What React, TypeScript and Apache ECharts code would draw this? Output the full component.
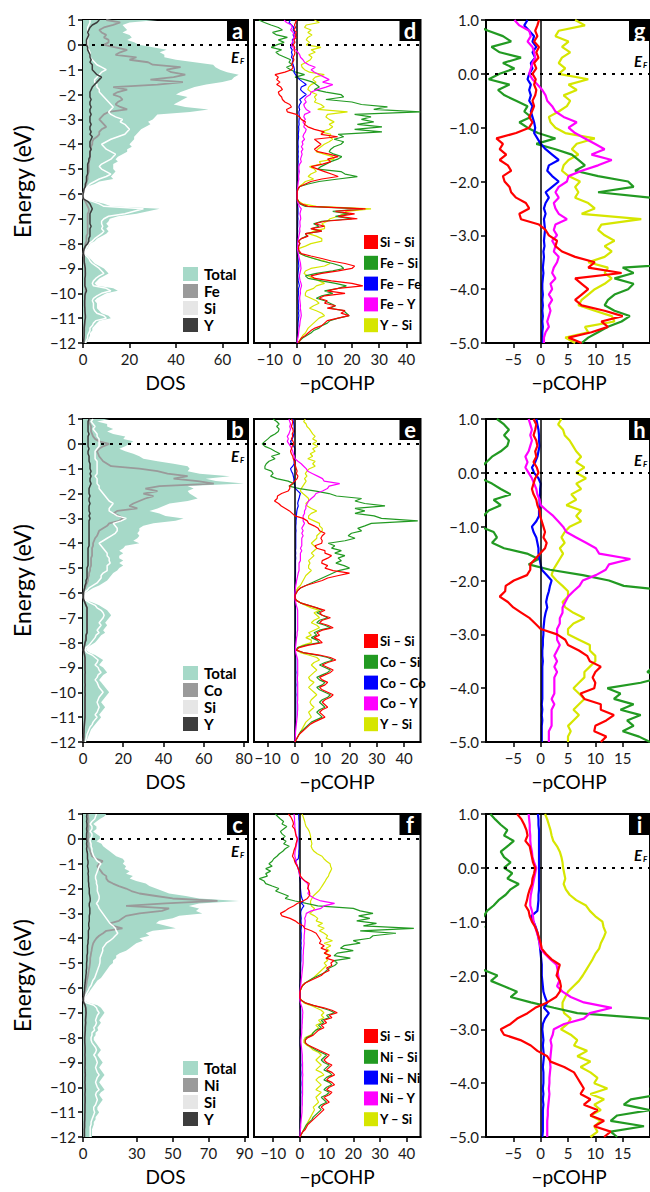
import React, { useEffect, useRef } from "react";
import * as echarts from "echarts";

// Energy grid (eV), top (1.0) to bottom (-12.0), 0.1 eV step
const ENERGY: string[] = Array.from({ length: 131 }, (_, i) => ((10 - i) / 10).toFixed(1));

// ---------------- Row 1 : Fe ----------------
const dosTotalFe = [
  32, 20, 17, 18, 19, 17, 20, 21, 19, 22,
  24, 30, 36, 33, 35, 35, 40, 48, 56, 57,
  59, 62, 67, 65, 64, 60, 53, 48, 45, 42,
  40, 45, 43, 41, 39, 44, 54, 46, 32, 31,
  30, 28, 29, 27, 25, 24, 23, 22, 22, 21,
  20, 21, 19, 19, 17, 15, 14, 15, 13, 13,
  13, 14, 13, 12, 13, 7, 5, 2, 1, 0.5,
  0, 0, 0.5, 5, 9, 12, 33, 28, 23, 15,
  11.5, 11, 10, 11, 10, 11, 10, 8, 6, 5,
  3, 2.5, 2, 1, 0.3, 2, 3, 4, 5, 7,
  9, 10, 11, 9, 7, 6, 5, 6, 13, 15,
  10, 8, 6, 5, 6, 6, 6, 7, 8, 11,
  12, 7, 6, 5, 4, 4, 3, 3, 2.5, 2,
  1.5,
];
const dosFe = [
  10, 16, 13, 9, 7, 8, 10, 9, 11, 11,
  9, 14, 19, 16, 14, 23, 20, 28, 30, 42,
  36, 38, 44, 39, 29, 43, 32, 13, 19, 15,
  13, 16, 17, 15, 14, 16, 19, 11, 9, 8,
  7, 8, 9, 10, 8, 7, 7, 6, 4.5, 4,
  4, 3.5, 3.5, 3, 3, 3, 3, 2.5, 2.5, 2.5,
  2.5, 2.5, 2, 2, 2, 1.5, 1.5, 1, 0.5, 0.3,
  0, 0, 0.2, 1, 1.5, 2, 2.5, 2.5, 2, 2,
  2, 2, 2, 2, 2, 2, 2, 1.5, 1.5, 1.5,
  1, 1, 0.5, 0.3, 0.2, 0.3, 0.5, 0.5, 0.7, 0.8,
  0.8, 0.9, 1, 0.9, 0.8, 0.8, 0.8, 0.8, 1, 1.1,
  1, 0.9, 0.8, 0.8, 0.8, 0.8, 0.8, 0.9, 0.9, 1,
  1, 0.8, 0.8, 0.7, 0.6, 0.6, 0.5, 0.5, 0.4, 0.4,
  0.3,
];
const dosSiFe = [
  3, 3, 2.5, 2, 2, 2, 2.5, 2, 2, 2,
  2, 2, 2.5, 3, 3, 3, 4, 5, 6, 8,
  10, 8, 7, 6, 5, 5, 6, 6, 7, 7,
  8, 9, 10, 11, 12, 13, 12, 11, 12, 14,
  17, 16, 18, 19, 20, 19, 18, 15, 12, 10,
  8, 9, 10, 12, 14, 13, 12, 10, 8, 7,
  8, 10, 12, 10, 7, 5, 3, 2, 1, 0.5,
  0, 0, 0.3, 4, 7, 9, 26, 22, 18, 11,
  9, 8, 8, 8.5, 8, 9, 8, 6.5, 5, 4,
  2.5, 2, 1.5, 0.8, 0.2, 1.5, 2.5, 3, 4, 5.5,
  7, 8, 9, 7, 5.5, 4.5, 4, 4.5, 10, 12,
  8, 6, 4.5, 4, 4.5, 4.5, 4.5, 5, 6, 9,
  10, 5.5, 4.5, 4, 3, 3, 2.5, 2, 2, 1.5,
  1,
];
const dosYFe = [
  7, 6, 4, 3, 2.5, 2, 2.5, 2, 1.5, 1.5,
  1.5, 2, 2, 2.5, 3, 3, 3.5, 3, 4, 4,
  4, 5, 6, 8, 7, 6, 5, 4, 3.5, 3,
  3, 3, 3.5, 3, 3, 3.5, 3, 3, 3.5, 3,
  3, 3, 3.5, 3, 3, 3.5, 3, 4, 3.5, 3,
  3, 3, 3.5, 3, 3, 3, 2.5, 2.5, 2, 2,
  2, 2, 2, 1.5, 1.5, 1.5, 1, 1, 0.5, 0.3,
  0, 0, 0.2, 2, 3, 3.5, 4, 3.5, 3, 3,
  3, 3, 3, 3.5, 3, 3, 3, 3, 2.5, 2.5,
  2, 1, 0.5, 0.3, 0.2, 0.5, 0.5, 0.5, 0.6, 0.8,
  1, 1, 1, 1, 0.8, 0.8, 0.8, 0.8, 1.2, 1.5,
  1, 0.8, 0.8, 0.7, 0.7, 0.7, 0.8, 0.8, 0.9, 1,
  1, 0.8, 0.7, 0.6, 0.5, 0.5, 0.5, 0.5, 0.4, 0.3,
  0.3,
];
const cohpSiSi1 = [
  -0.3, -0.6, -1, -0.6, -1.2, -0.3, -0.8, -0.4, -1.2, -0.8,
  -1.5, -0.9, -1.2, -0.8, -1, -1.5, -1.2, -1.6, -2.1, -1.5,
  -2.1, -4.5, -8.1, -6.9, -7.5, -6.3, -7.5, -6, -5.4, -6.9,
  -6.6, -5.7, -5.4, -4.5, -2.7, -2.1, -3.9, -3.6, -0.3, 0.9,
  1.5, 3, 2.7, 3.9, 6.3, 9.9, 8.7, 14.8, 6.3, 7.5,
  8.7, 7.5, 6.3, 7.5, 11.7, 15, 11.1, 12.3, 9.3, 5.1,
  7.5, 10, 12.5, 15, 9, 5, 3, 1, 0.3, 0,
  0, 0, 0, 0.3, 1.5, 4, 25, 14, 21, 15,
  22, 10, 6.5, 10, 5, 9, 3, 4, 1.5, 0.5,
  1, 0.6, 0.4, 0.8, 1.5, 5, 9, 12.5, 17.5, 21,
  20, 15, 9, 5, 6.5, 12.5, 20, 24, 15, 11,
  17.5, 10, 8, 11, 10, 14, 11, 17.5, 16, 19,
  15, 11, 10, 9, 6.5, 5, 4, 3, 1.5, 1,
  0.3,
];
const cohpFeSi1 = [
  -14, -12, -9.6, -6.9, -5.4, -9, -7.5, -3.6, -6.9, -4.8,
  -7.5, -9.5, -5.7, -7.8, -6.6, -4.5, -2.4, -3, -1.8, -3.9,
  -2.4, -0.5, 2.7, -0.8, 2.7, 5.7, 6.9, 8.1, 6.3, 10.5,
  16, 17, 10.5, 20, 23.5, 33, 28, 45, 21, 27,
  23.5, 28, 22, 31, 21, 31, 15, 17, 13.5, 17,
  16, 13.5, 12.3, 11.7, 13.5, 16.3, 14.8, 12.3, 10.5, 8.7,
  7.5, 16, 17.5, 22, 15, 8, 4, 1, 0.3, 0,
  0, 0, 0, 0.5, 1, 3, 24, 13, 19, 14,
  20, 9, 6, 8, 5, 9, 3, 3.5, 1.5, 0.5,
  1, 0.4, 0.4, 0.4, 1, 3, 6, 9, 13, 16,
  17, 13, 7, 3, 4, 9, 14, 18, 15, 10,
  13, 9, 7, 10, 12, 14, 12, 17, 18, 19,
  15, 12, 11, 9, 8, 6, 5, 3.5, 2, 1,
  0.3,
];
const cohpFeFe1 = [
  -2.4, -3, -2.1, -1.2, -1.5, -0.8, -1.5, -1, -1.8, -1.5,
  -2.1, -2.4, -1.8, -2.1, -1.8, -2.1, -1.5, -1.8, -1.5, -1.2,
  -1, -1.2, -0.6, 0, 0.9, 2.1, 3.3, 1.5, 1.2, 2.1,
  3.3, 2.1, 0.9, 1.5, 0.9, 0.6, 0.9, 0.6, 0.7, 0.8,
  0.7, 0.6, 0.7, 0.5, 0.6, 0.5, 0.4, 0.5, 0.4, 0.3,
  0.3, 0.4, 0.3, 0.4, 0.3, 0.4, 0.3, 0.4, 0.3, 0.3,
  0.3, 0.3, 0.2, 0.2, 0.2, 0.1, 0.1, 0, 0, 0,
  0, 0, 0, 0, 0.1, 0.2, 0.3, 0.3, 0.3, 0.2,
  0.3, 0.2, 0.2, 0.2, 0.1, 0.2, 0.1, 0.1, 0, 0,
  0, 0, 0, 0, 0.1, 0.2, 0.3, 0.4, 0.5, 0.6,
  0.5, 0.4, 0.3, 0.2, 0.3, 0.4, 0.6, 0.8, 0.5, 0.4,
  0.5, 0.4, 0.3, 0.4, 0.4, 0.5, 0.4, 0.6, 0.5, 0.6,
  0.5, 0.4, 0.3, 0.3, 0.2, 0.2, 0.1, 0.1, 0.1, 0,
  0,
];
const cohpFeY1 = [
  -4.8, -3.9, -2.1, -1.8, -2.4, -1.5, -1.2, -1, -1.5, -1.8,
  -2.1, -1.5, -0.6, 0.3, 0.9, 1.2, 2.1, 2.7, 4.2, 6.6,
  5.1, 6.3, 8.1, 9.9, 11.7, 9.3, 13, 10.5, 7.5, 5.1,
  4.8, 3.3, 2.7, 3.3, 2.4, 2.7, 3.3, 4.8, 2.7, 2.4,
  3, 2.1, 2.7, 2.4, 3.3, 3, 2.4, 2.1, 2.7, 1.8,
  2.1, 1.5, 2.1, 1.5, 1.8, 1.5, 1.2, 1.5, 0.9, 0.6,
  0.6, 0.8, 0.6, 0.5, 0.6, 0.4, 0.3, 0.2, 0.1, 0,
  0, 0, 0, 0.1, 0.4, 0.8, 1.5, 1.2, 1, 1.2,
  1.3, 1, 1, 1.1, 0.9, 1, 0.8, 0.6, 0.4, 0.3,
  0.2, 0.2, 0.1, 0.2, 0.4, 0.6, 0.8, 1, 1.2, 1.3,
  1.4, 1.2, 1, 0.8, 0.9, 1.1, 1.4, 1.6, 1.3, 1.1,
  1.2, 1, 0.9, 1, 1.1, 1.2, 1.1, 1.3, 1.4, 1.5,
  1.3, 1.1, 1, 0.9, 0.7, 0.6, 0.5, 0.4, 0.2, 0.1,
  0,
];
const cohpYSi1 = [
  6.3, 8.1, 3.3, 2.7, 5.1, 3.9, 5.4, 3.9, 3.3, 4.5,
  3.3, 8.7, 5.1, 6.6, 4.2, 5.4, 4.8, 3.3, 1.5, 1.8,
  2.7, 4.5, 9.9, 6.6, 5.7, 6.9, 5.1, 4.2, 3.9, 5.1,
  7.2, 6.3, 6.9, 6.3, 8.7, 9.9, 7.5, 18.4, 11.1, 10.5,
  11.7, 13.5, 11.7, 13, 11.7, 8.7, 12.3, 11.7, 13, 11.7,
  9.9, 8.7, 7.5, 6.9, 9.9, 13, 13.5, 8.1, 8.7, 4.5,
  6.3, 7, 5, 4, 6, 3, 2, 0.8, 0.2, 0,
  0, 0, 0, 0.5, 2, 7, 27, 18, 17, 15,
  12, 11, 9, 10, 10, 6, 4, 7, 9, 9,
  5, 3, 0.5, 0.5, 1, 3, 6, 10, 12, 10,
  5, 3, 2.5, 4, 6, 8, 10, 7, 6, 3.5,
  3, 3, 5, 7, 8, 6, 4.5, 7, 9, 10,
  8, 7, 6, 5, 4, 3.5, 3, 2, 1.5, 0.8,
  0.3,
];

// ---------------- Row 2 : Co ----------------
const dosTotalCo = [
  13, 7, 12, 12, 15, 12, 15, 21, 20, 25,
  23, 21, 18, 21, 25, 28, 30, 37, 45, 52,
  53, 52, 58, 73, 61, 66, 80, 52, 55, 52,
  53, 55, 57, 52, 43, 40, 37, 33, 38, 41,
  50, 46, 35, 30, 28, 28, 27, 28, 27, 25,
  28, 21, 20, 18, 20, 18, 18, 20, 18, 20,
  18, 17, 15, 14, 13, 12, 10, 8, 5, 3,
  1, 0.5, 0.5, 2, 5, 8, 10, 12, 13, 14,
  13, 12, 11, 12, 11, 10, 11, 9, 8, 7,
  6, 4, 2, 1.5, 3, 6, 8, 10, 9, 8,
  10, 11, 12, 10, 9, 8, 9, 10, 11, 12,
  13, 12, 11, 10, 9, 10, 11, 10, 9, 8,
  9, 8, 7, 6, 5, 4, 3.5, 3, 2.5, 2,
  1.5,
];
const dosCo = [
  3.5, 3, 3.5, 4, 4, 4, 4.5, 5, 6, 8,
  13, 10, 8, 7, 7.5, 8, 9, 10, 12, 14,
  28, 37, 42, 52, 45, 57, 65, 38, 31, 37,
  30, 35, 31, 28, 25, 23, 27, 17, 15, 18,
  20, 18, 13, 12, 10, 8, 7.5, 7, 6, 5.5,
  5, 5, 4.5, 4.5, 4.5, 4.5, 4, 4, 4, 4,
  3.5, 3.5, 3, 3, 2.5, 2.5, 2, 1.5, 1, 0.5,
  0.3, 0.2, 0.2, 0.5, 1, 1.5, 2, 2, 2, 2,
  2, 2, 2, 2, 2, 2, 2, 1.5, 1.5, 1.2,
  1, 0.8, 0.4, 0.3, 0.5, 0.8, 1, 1, 1, 1,
  1, 1, 1, 1, 1, 1, 1, 1, 1, 1,
  1, 1, 1, 1, 1, 1, 1, 1, 1, 1,
  1, 0.9, 0.8, 0.7, 0.6, 0.5, 0.5, 0.4, 0.4, 0.3,
  0.3,
];
const dosSiCo = [
  5, 4, 5, 6, 5, 6, 7, 7, 8, 8,
  8, 8, 7, 6, 6, 6, 6, 7, 7, 7,
  7, 7, 7, 6, 7, 7, 7, 8, 8, 9,
  10, 11, 12, 13, 15, 14, 13, 13, 15, 17,
  21.5, 19, 15, 16, 17, 17, 16, 14, 12, 10,
  8, 9, 10, 11, 12, 12, 13, 13, 13.5, 12,
  12, 12, 10, 9, 9, 8, 7, 5, 3, 2,
  0.5, 0.3, 0.3, 1.5, 3.5, 6, 7, 9, 10, 10.5,
  10, 9, 8, 9, 8, 7, 8, 6.5, 6, 5,
  4, 3, 1.5, 1, 2, 4.5, 6, 7.5, 7, 6,
  7.5, 8, 9, 7.5, 7, 6, 7, 7.5, 8, 9,
  10, 9, 8, 7.5, 7, 7.5, 8, 7.5, 7, 6,
  7, 6, 5, 4.5, 3.5, 3, 2.5, 2, 1.8, 1.5,
  1,
];
const dosYCo = [
  3, 2.5, 2.5, 2.5, 2.5, 2.5, 3, 2.5, 2.5, 2.5,
  2.5, 2.5, 3, 2.5, 2.5, 3, 3, 3, 3.5, 3.5,
  3.5, 4, 3.5, 4, 3.5, 3.5, 4, 3.5, 3, 3,
  3, 3.5, 3, 3, 3.5, 3, 3, 3, 3.5, 3,
  3.5, 3, 3, 3, 3, 3, 3, 3, 3, 3,
  3, 3, 2.5, 2.5, 2.5, 2.5, 2.5, 2.5, 2.5, 2.5,
  2, 2, 2, 2, 2, 1.5, 1.5, 1, 0.8, 0.5,
  0.3, 0.2, 0.2, 0.5, 1, 1.5, 2, 2, 2, 2,
  2, 2, 2, 2, 2, 2, 2, 1.5, 1.5, 1.5,
  1, 0.8, 0.5, 0.3, 0.5, 0.8, 1, 1, 1, 1,
  1, 1, 1.1, 1, 1, 1, 1, 1.1, 1, 1,
  1, 1.1, 1, 1, 1, 1, 1, 1, 1, 1,
  1, 0.9, 0.8, 0.7, 0.6, 0.5, 0.5, 0.4, 0.4, 0.3,
  0.3,
];
const cohpSiSi2 = [
  -1.3, -0.8, -1, -1.3, -0.8, -0.6, -1, -0.8, -1.3, -0.7,
  -0.4, -1, -1.3, -1.6, -1.3, -0.8, -0.6, -0.2, -0.1, 0.2,
  0.5, 0.8, 0.5, 1.1, 0.8, -0.1, -1, -1.9, -1.9, -2.5,
  -4.9, -6.4, -6.5, -7.5, -6, -5, -3.5, -2, -1, 0,
  3, 4.5, 5, 7, 8.5, 9, 11, 10, 9.5, 10,
  9.8, 7.3, 8, 11, 11, 13.4, 12, 10, 9.8, 12,
  11, 14, 20, 16, 12, 10, 7, 4, 2, 1,
  0.5, 0, 0, 0.5, 2, 5, 8, 11, 9, 10,
  13, 10, 9, 12, 14, 10, 8, 9, 7, 9,
  10, 5, 1.5, 0.5, 3, 9, 13, 15, 12, 10,
  12, 14, 13, 11, 9, 10, 12, 11, 9, 10,
  12, 14, 13, 11, 10, 11, 12, 10, 9, 10,
  11, 9, 7, 5.5, 4.5, 3.5, 2.5, 1.5, 1, 0.5,
  0,
];
const cohpCoSi2 = [
  -8, -6.7, -5.8, -6.7, -5.8, -6.1, -7.3, -8.9, -9.9, -11,
  -12, -11, -8.9, -7.3, -5.5, -8.6, -7.3, -9.5, -10.5, -11,
  -11, -8.6, -8, -8.9, -6.7, -2.5, -0.4, -2.2, 1.7, 7.7,
  12.5, 15.2, 24.4, 22, 25.6, 33, 22, 25.6, 22, 29,
  31.7, 45, 28, 25.6, 23, 24.4, 20.7, 19.5, 22, 18.3,
  12.2, 14.6, 13.4, 17, 14.6, 18.3, 15.8, 17, 15, 18,
  20, 16, 14, 12, 10, 8, 6, 4, 2, 1,
  0.5, 0, 0, 0.5, 2, 5, 8, 10, 8, 10,
  12, 9, 8, 11, 13, 9, 7, 8, 6, 8,
  9, 4, 1, 0.5, 3, 8, 12, 14, 11, 9,
  11, 13, 12, 10, 8, 9, 11, 10, 8, 9,
  11, 13, 12, 10, 9, 10, 11, 9, 8, 9,
  10, 8, 6, 5, 4, 3, 2, 1.5, 1, 0.5,
  0,
];
const cohpCoCo2 = [
  -0.8, -0.6, -0.4, -0.3, -0.3, -0.2, -0.4, -0.6, -1, -1.6,
  -1.2, -0.4, 0, -0.1, -0.1, -0.2, -0.2, -0.3, -0.3, -0.8,
  -1.6, -1.3, -0.8, -0.6, -0.4, -0.4, -0.2, 0, 0.2, 1.1,
  2, 1.7, 1.5, 1.2, 1, 1.2, 0.9, 0.7, 0.6, 0.5,
  0.5, 0.4, 0.4, 0.3, 0.3, 0.4, 0.3, 0.3, 0.3, 0.3,
  0.3, 0.3, 0.3, 0.2, 0.3, 0.2, 0.3, 0.2, 0.2, 0.2,
  0.2, 0.2, 0.2, 0.2, 0.1, 0.1, 0.1, 0.1, 0, 0,
  0, 0, 0, 0, 0.1, 0.1, 0.2, 0.2, 0.2, 0.2,
  0.2, 0.2, 0.2, 0.2, 0.2, 0.2, 0.2, 0.1, 0.1, 0.1,
  0.1, 0, 0, 0, 0.1, 0.2, 0.3, 0.3, 0.3, 0.3,
  0.3, 0.3, 0.4, 0.3, 0.3, 0.3, 0.3, 0.4, 0.3, 0.3,
  0.3, 0.4, 0.3, 0.3, 0.3, 0.3, 0.3, 0.3, 0.3, 0.3,
  0.3, 0.2, 0.2, 0.2, 0.1, 0.1, 0.1, 0.1, 0, 0,
  0,
];
const cohpCoY2 = [
  -2.2, -1.9, -1.6, -1.9, -1.6, -1.9, -2.2, -2.8, -2.4, -2.8,
  -2.2, -1.6, -1.2, -0.8, -0.6, -0.2, 0, 1.1, 2.3, 3.2,
  4.1, 4.7, 6.5, 8.3, 10.1, 10.7, 16.4, 12.5, 11.9, 10.1,
  7.7, 7.1, 6, 5, 4.5, 4, 4, 3.5, 3.5, 3,
  3, 3, 3.5, 3, 2.5, 3, 2.5, 3, 2.5, 2.5,
  2.5, 2.5, 2, 2.5, 2, 2, 2, 2, 1.5, 1.5,
  1.5, 1.5, 1.2, 1, 0.8, 0.6, 0.5, 0.3, 0.2, 0.1,
  0, 0, 0, 0.1, 0.3, 0.5, 0.8, 1, 1, 1,
  1, 1, 1, 1, 1, 1, 0.8, 0.8, 0.6, 0.5,
  0.4, 0.3, 0.2, 0.2, 0.3, 0.5, 0.8, 1, 1, 1,
  1, 1, 1, 1, 0.9, 0.9, 1, 1, 1, 1,
  1, 1, 1, 1, 0.9, 1, 1, 1, 0.9, 0.9,
  0.8, 0.7, 0.6, 0.5, 0.4, 0.3, 0.2, 0.2, 0.1, 0.1,
  0,
];
const cohpYSi2 = [
  3.8, 3.2, 4.1, 4.4, 5.3, 5.9, 6.5, 7.4, 6.5, 8,
  6.5, 8.3, 6.5, 7.4, 5.6, 6.5, 4.7, 7.4, 6.5, 7.4,
  5.3, 4.4, 3.8, 4.4, 3.5, 4.1, 3.5, 2.9, 2.3, 2,
  2.9, 4, 5, 5, 4, 4.5, 6, 8, 6, 5,
  5, 7, 9, 9, 10, 10, 9, 8, 8, 7,
  6, 7, 8, 7, 6, 7, 6, 5, 5.5, 5,
  5, 6, 5, 4, 3.5, 3, 2.5, 2, 1, 0.5,
  0, 0, 0, 0.5, 2, 4, 6, 9, 7, 8,
  9, 7, 6, 8, 9, 7, 5, 6, 4, 6,
  6, 3, 1, 0.5, 2, 5, 8, 9, 7, 6,
  7, 8, 7, 6, 5, 5.5, 7, 6, 5, 6,
  7, 8, 7, 6, 5.5, 6, 7, 6, 5, 5.5,
  6, 5, 4, 3.5, 3, 2.5, 2, 1.5, 1, 0.5,
  0,
];

// ---------------- Row 3 : Ni ----------------
const dosTotalNi = [
  13, 11.8, 9.4, 7.5, 5.7, 7.5, 7.5, 5.7, 7.5, 9.4,
  9.4, 7.5, 10.3, 11.2, 13, 14.9, 16.7, 18.5, 22.2, 23.2,
  22.2, 24, 23.2, 26, 24, 27.8, 26, 29.7, 35, 37,
  40.7, 44.4, 48, 57.3, 64.7, 87, 64.7, 59, 64.7, 63,
  66.5, 53.6, 50, 42.5, 40.7, 46.2, 51.8, 38.9, 35, 37,
  31.5, 33.4, 29.7, 27.8, 26, 24, 20.4, 18.5, 18.5, 16.7,
  16.7, 15, 14, 13, 12, 11, 10, 8, 7, 6,
  5, 4, 3, 2, 1, 0.5, 3, 8, 10, 11,
  12, 11, 10, 9, 10, 9, 8, 8.5, 7, 7,
  6, 6, 7, 8, 9, 10, 9, 8, 9, 10,
  11, 10, 9, 10, 11, 12, 11, 10, 9, 10,
  11, 12, 10, 9, 10, 11, 10, 9, 8, 8,
  9, 8, 7, 7, 6, 6, 5.5, 5, 5, 5,
  5,
];
const dosNi = [
  2.8, 2.8, 3, 3, 3, 3, 2.8, 2.8, 3, 3,
  3, 3, 3, 3, 3.5, 4, 4.5, 5, 7.5, 11,
  9, 8, 9, 10, 11, 13, 13, 14, 16.7, 20,
  24, 27, 31.5, 40.7, 50, 75, 46, 24, 48, 44,
  31.5, 24, 22, 20, 15, 16.7, 22, 13, 11.2, 9,
  7.5, 6.5, 5.7, 5.3, 5, 4.8, 4.5, 4.3, 4, 4,
  3.9, 3.7, 3.5, 3.2, 3, 2.8, 2.5, 2.2, 2, 1.8,
  1.5, 1.2, 1, 0.7, 0.4, 0.3, 0.6, 1.2, 1.5, 1.5,
  1.5, 1.5, 1.4, 1.3, 1.3, 1.2, 1.1, 1.1, 1, 1,
  0.9, 0.9, 1, 1, 1, 1, 1, 1, 1, 1,
  1, 1, 1, 1, 1, 1, 1, 1, 1, 1,
  1, 1, 1, 1, 1, 1, 1, 1, 1, 1,
  1, 1, 1, 0.9, 0.9, 0.8, 0.8, 0.7, 0.7, 0.7,
  0.7,
];
const dosSiNi = [
  7.5, 7, 6.5, 5, 4, 5, 5, 4, 5, 5,
  4, 4, 4.5, 4.5, 5, 5, 5.5, 6, 7, 8,
  10, 9, 8.5, 8, 7.5, 7, 7, 7.5, 7.5, 8,
  8, 8, 8.5, 9, 9, 8.5, 7.5, 8.5, 9, 10,
  11, 12, 13, 14, 15, 16.7, 18, 18.5, 19.4, 18,
  16.7, 15, 13, 12, 11, 11, 10.5, 10, 9.5, 9.5,
  9.4, 9, 8.5, 8, 7.5, 7, 6.5, 5.5, 5, 4.5,
  3.5, 3, 2.2, 1.5, 0.7, 0.3, 2, 6, 7.5, 8,
  9, 8, 7.5, 7, 7.5, 7, 6, 6.5, 5, 5,
  4.5, 4.5, 5, 6, 7, 7.5, 7, 6, 7, 7.5,
  8, 7.5, 7, 7.5, 8, 9, 8, 7.5, 7, 7.5,
  8, 9, 7.5, 7, 7.5, 8, 7.5, 7, 6, 6,
  6.5, 6, 5.5, 5, 4.5, 4.5, 4, 4, 4, 4,
  4,
];
const dosYNi = [
  2.2, 2, 2.2, 2, 2.2, 2.2, 2, 2.2, 2, 2,
  2, 2.2, 2, 2.2, 2, 2.2, 2.5, 2.5, 2.5, 2.8,
  2.8, 2.5, 2.8, 3, 2.8, 3, 3, 3, 3.2, 3.2,
  3.5, 3.5, 3.5, 3.8, 4, 4, 3.5, 3.5, 3.8, 3.8,
  3.8, 3.5, 3.5, 3.5, 3.2, 3.2, 3.5, 3, 3, 3,
  3, 2.8, 2.8, 2.5, 2.5, 2.5, 2.5, 2.2, 2.2, 2.2,
  2, 2, 2, 1.8, 1.8, 1.6, 1.5, 1.3, 1.2, 1,
  0.9, 0.8, 0.6, 0.5, 0.3, 0.2, 0.5, 1.2, 1.5, 1.6,
  1.7, 1.6, 1.5, 1.4, 1.5, 1.4, 1.3, 1.3, 1.2, 1.1,
  1, 1, 1, 1.1, 1.2, 1.2, 1.2, 1.1, 1.2, 1.2,
  1.2, 1.2, 1.1, 1.2, 1.2, 1.3, 1.2, 1.2, 1.1, 1.2,
  1.2, 1.3, 1.2, 1.1, 1.2, 1.2, 1.2, 1.1, 1.1, 1.1,
  1.1, 1, 1, 1, 0.9, 0.9, 0.9, 0.8, 0.8, 0.8,
  0.8,
];
const cohpSiSi3 = [
  -4.3, -3.5, -3, -2.6, -2.4, -2.8, -2, -1.8, -1.6, -1.4,
  -1, -1.2, -1.5, -1.6, -2, -2.3, -2.5, -2.8, -2.2, -2,
  -1.6, -1, -0.6, -0.3, 0, 0.2, 1, 2, 3.5, 3.2,
  2.9, 3.5, 3.7, 3.5, 2.8, 1.2, -1, -2.4, -4.3, -5.5,
  -7.3, -6.7, -3.7, -1.8, -0.6, 1.2, 1.8, 4.3, 6.1, 6.7,
  7.3, 7.9, 7.3, 9.1, 7.9, 10.4, 9.1, 11.6, 9.8, 12.8,
  11.6, 12, 10, 11, 9, 8, 6, 4, 2, 1,
  0.5, 0.2, 0, 0, 0, 0.5, 2, 5, 9, 12,
  14, 11, 12, 9, 10, 8, 9, 7, 6, 5,
  3, 2, 2, 3, 5, 7, 9, 11, 10, 9,
  10, 12, 11, 10, 12, 13, 11, 10, 12, 13,
  11, 10, 12, 11, 9, 10, 11, 9, 8, 9,
  8, 7, 6, 5, 4, 3, 2.5, 2, 1, 0.5,
  0,
];
const cohpNiSi3 = [
  -9.2, -8.3, -7.3, -6.1, -6.7, -4.9, -6.1, -7.3, -6.7, -5.5,
  -6.7, -5.2, -6.1, -4, -5.5, -6.4, -7.7, -8.6, -9.8, -10.4,
  -11.6, -10.4, -12.8, -11, -12.8, -12.2, -15.2, -13.4, -12.8, -10.4,
  -7.9, -9.1, -6.7, -4.3, -5.5, -1.8, 2.4, 6.7, 20, 22.6,
  27.4, 22, 26.2, 21.3, 28.7, 23.8, 42.7, 22.6, 36, 27.4,
  26.2, 20, 22.6, 16.5, 15.2, 20, 14, 12.8, 18.9, 12.8,
  14, 13, 11, 10, 9, 7, 5, 3.5, 2, 1,
  0.5, 0.2, 0, 0, 0, 0.5, 2, 5, 8, 11,
  13, 10, 11, 8, 9, 7, 8, 6, 5, 4.5,
  2.5, 2, 2, 3, 4.5, 6, 8, 10, 9, 8,
  9, 11, 10, 9, 11, 12, 10, 9, 11, 12,
  10, 9, 11, 10, 8, 9, 10, 8, 7, 8,
  7, 6, 5, 4.5, 3.5, 2.5, 2, 1.5, 1, 0.5,
  0,
];
const cohpNiNi3 = [
  -0.5, -0.4, -0.4, -0.3, -0.3, -0.3, -0.3, -0.3, -0.3, -0.3,
  -0.3, -0.3, -0.3, -0.3, -0.3, -0.4, -0.4, -0.5, -0.6, -1.8,
  -1.3, -0.9, -0.6, -0.4, -0.2, -0.1, 0, 0.1, 0.2, 0.2,
  0.2, 0.3, 0.4, 0.5, 0.8, 1.2, 0.6, 1.5, 0.8, 0.4,
  0.3, 0.4, 0.5, 0.4, 0.5, 0.6, 0.5, 0.4, 0.5, 0.5,
  0.5, 0.4, 0.5, 0.4, 0.5, 0.4, 0.4, 0.4, 0.4, 0.4,
  0.3, 0.3, 0.3, 0.3, 0.2, 0.2, 0.2, 0.1, 0.1, 0,
  0, 0, 0, 0, 0, 0, 0.1, 0.2, 0.2, 0.3,
  0.3, 0.3, 0.3, 0.3, 0.3, 0.3, 0.3, 0.2, 0.2, 0.2,
  0.1, 0.1, 0.1, 0.1, 0.2, 0.3, 0.3, 0.3, 0.3, 0.3,
  0.3, 0.4, 0.3, 0.3, 0.4, 0.4, 0.3, 0.3, 0.4, 0.4,
  0.3, 0.3, 0.4, 0.3, 0.3, 0.3, 0.3, 0.3, 0.2, 0.2,
  0.2, 0.2, 0.2, 0.1, 0.1, 0.1, 0.1, 0.1, 0, 0,
  0,
];
const cohpNiY3 = [
  -2.2, -2.1, -2, -2, -1.9, -1.9, -1.8, -1.6, -1.5, -1.2,
  -0.8, -1, -1.2, -1.4, -1.6, -1.8, -1.9, -1.9, -1.6, -1.4,
  -1.3, -1, -0.7, -0.4, -0.2, 0, 0.8, 1.8, 2.9, 3.1,
  3.2, 3.4, 3, 4, 5.5, 7.9, 13, 9, 7.9, 4.3,
  2.4, 2.2, 1.8, 2, 1.9, 1.8, 1.7, 1.8, 1.7, 1.6,
  1.6, 1.5, 1.6, 1.5, 1.4, 1.3, 1.3, 1.2, 1.2, 1.2,
  1.2, 1.1, 1, 0.9, 0.8, 0.7, 0.6, 0.5, 0.4, 0.3,
  0.2, 0.1, 0, 0, 0, 0, 0.2, 0.5, 0.8, 1,
  1.1, 1, 1, 0.9, 0.9, 0.8, 0.8, 0.7, 0.7, 0.6,
  0.5, 0.4, 0.4, 0.5, 0.6, 0.7, 0.8, 0.9, 0.9, 0.9,
  1, 1, 1, 1, 1, 1.1, 1, 1, 1, 1,
  1, 1, 1, 1, 0.9, 0.9, 0.9, 0.9, 0.8, 0.8,
  0.8, 0.7, 0.6, 0.5, 0.4, 0.3, 0.3, 0.2, 0.1, 0.1,
  0,
];
const cohpYSi3 = [
  0.8, 1.2, 1.5, 1.8, 2, 2.3, 3, 3.5, 3.8, 4,
  4.1, 4.3, 4.5, 4.2, 4.6, 5.3, 6.5, 8.3, 9, 10,
  11.3, 11.5, 11.9, 11.5, 11, 10.7, 10, 9.5, 8.9, 8.3,
  7.7, 7, 6, 5, 4.5, 4, 4, 4.3, 5.5, 4.9,
  3.7, 5.5, 6.7, 6.1, 8.5, 6.7, 9.1, 7.3, 9.1, 10.4,
  9.8, 12.2, 9.1, 11.6, 9.8, 11, 9.1, 11, 9.8, 10.4,
  9.1, 10, 9, 8, 7, 6, 5, 3.5, 2, 1,
  0.5, 0.2, 0, 0, 0, 0.5, 1.5, 4, 6, 8,
  9, 8, 9, 7, 8, 6, 7, 6, 5, 4,
  2, 1.5, 1.5, 2.5, 4, 5, 7, 8, 7, 6,
  7, 8, 7, 6, 8, 9, 7, 6, 7, 8,
  7, 6, 8, 7, 6, 6.5, 7, 6, 5, 5.5,
  5, 4.5, 4, 3.5, 3, 2.5, 2, 1.5, 1, 0.5,
  0,
];

// Axis tick labels and ranges
const DOS_TICKS = [[0, 20, 40, 60], [0, 20, 40, 60, 80], [0, 30, 50, 70, 90]];
const DOS_MAX = [71, 82, 92];
const COHP_TICKS = [-10, 0, 10, 20, 30, 40];
const COHP_RANGE = [[-15.8, 45.1], [-15, 46], [-17.2, 45.2]];
const ZOOM_TICKS = [-5, 0, 5, 10, 15];
const METALS = ["Fe", "Co", "Ni"];
const PANEL_LETTERS = [["a", "d", "g"], ["b", "e", "h"], ["c", "f", "i"]];

const ROWS = [
  { total: dosTotalFe, m: dosFe, si: dosSiFe, y: dosYFe, siSi: cohpSiSi1, mSi: cohpFeSi1, mm: cohpFeFe1, mY: cohpFeY1, ySi: cohpYSi1 },
  { total: dosTotalCo, m: dosCo, si: dosSiCo, y: dosYCo, siSi: cohpSiSi2, mSi: cohpCoSi2, mm: cohpCoCo2, mY: cohpCoY2, ySi: cohpYSi2 },
  { total: dosTotalNi, m: dosNi, si: dosSiNi, y: dosYNi, siSi: cohpSiSi3, mSi: cohpNiSi3, mm: cohpNiNi3, mY: cohpNiY3, ySi: cohpYSi3 },
];

const FONT = "Lato, 'DejaVu Sans', sans-serif";
const C_TOTAL = "#a6d9c8";
const C_M = "#9a9a9a";
const C_SI = "#ffffff";
const C_SI_LEG = "#e6e6e6";
const C_Y = "#3d3d3d";
const C_RED = "#ff0000";
const C_GREEN = "#229a22";
const C_BLUE = "#0000ff";
const C_MAG = "#ff00ff";
const C_YEL = "#d6e600";

const ROW_TOP = [20, 419, 814];
const ROW_H = 323;
const COL_LEFT = [83, 254, 486];
const COL_W = [165, 166.5, 166];

const minus = (v: number, dec = 0) => (v < 0 ? "\u2212" : "") + Math.abs(v).toFixed(dec);

function buildOption() {
  const grid: any[] = [];
  const xAxis: any[] = [];
  const yAxis: any[] = [];
  const series: any[] = [];
  const graphic: any[] = [];

  const axisLineStyle = { color: "#000", width: 2 };
  const tickStyle = { color: "#000", width: 1.5 };
  const labelStyle = { fontSize: 15, fontFamily: FONT, color: "#1a1a1a" };

  for (let r = 0; r < 3; r++) {
    const top = ROW_TOP[r];
    const row = ROWS[r];
    const metal = METALS[r];
    for (let c = 0; c < 3; c++) {
      const gi = r * 3 + c;
      grid.push({
        left: COL_LEFT[c], top, width: COL_W[c], height: ROW_H,
        show: true, borderColor: "#000", borderWidth: 2, backgroundColor: "transparent",
      });
      let min = 0, max = 0, ticks: number[] = [];
      if (c === 0) { min = 0; max = DOS_MAX[r]; ticks = DOS_TICKS[r]; }
      if (c === 1) { min = COHP_RANGE[r][0]; max = COHP_RANGE[r][1]; ticks = COHP_TICKS; }
      if (c === 2) { min = -10; max = 20; ticks = ZOOM_TICKS; }
      xAxis.push({
        type: "value", gridIndex: gi, min, max,
        splitLine: { show: false },
        axisLine: { show: true, onZero: false, lineStyle: axisLineStyle },
        axisTick: { show: true, customValues: ticks, length: 5, lineStyle: tickStyle },
        axisLabel: { ...labelStyle, customValues: ticks, margin: 8, formatter: (v: number) => minus(v) },
      });
      const cats = c === 2 ? ENERGY.slice(0, 61) : ENERGY;
      const showY = c !== 1;
      yAxis.push({
        type: "category", gridIndex: gi, data: cats, inverse: true, boundaryGap: false,
        splitLine: { show: false },
        axisLine: { show: true, onZero: false, lineStyle: axisLineStyle },
        axisTick: { show: showY, interval: (i: number) => i % 10 === 0, length: 5, lineStyle: tickStyle },
        axisLabel: {
          ...labelStyle, show: showY, margin: 7,
          interval: (i: number) => i % 10 === 0,
          formatter: (v: string) => minus(Number(v), c === 2 ? 1 : 0),
        },
      });

      const base = { type: "line", xAxisIndex: gi, yAxisIndex: gi, symbol: "none", showSymbol: false, silent: true, animation: false, clip: true };
      const dotted = { yAxis: "0.0", lineStyle: { type: [3, 6], color: "#000", width: 2 } };
      if (c === 0) {
        series.push({
          ...base, name: "Total", data: row.total, lineStyle: { opacity: 0, width: 0 },
          areaStyle: { color: C_TOTAL, opacity: 1 }, z: 1,
          markLine: { silent: true, symbol: ["none", "none"], label: { show: false }, animation: false, data: [dotted] },
        });
        series.push({ ...base, name: metal, data: row.m, lineStyle: { color: C_M, width: 1.8 }, z: 2 });
        series.push({ ...base, name: "Si", data: row.si, lineStyle: { color: C_SI, width: 1.5 }, z: 3 });
        series.push({ ...base, name: "Y", data: row.y, lineStyle: { color: C_Y, width: 1.5 }, z: 4 });
      } else {
        const sl = (a: number[]) => (c === 2 ? a.slice(0, 61) : a);
        const w = c === 2 ? 2.2 : 1.2;
        series.push({
          ...base, name: "Y \u2013 Si", data: sl(row.ySi), lineStyle: { color: C_YEL, width: w }, z: 2,
          markLine: {
            silent: true, symbol: ["none", "none"], label: { show: false }, animation: false,
            data: [dotted, { xAxis: 0, lineStyle: { type: "solid", color: "#000", width: 1.5 } }],
          },
        });
        series.push({ ...base, name: metal + " \u2013 Si", data: sl(row.mSi), lineStyle: { color: C_GREEN, width: w }, z: 3 });
        series.push({ ...base, name: metal + " \u2013 " + metal, data: sl(row.mm), lineStyle: { color: C_BLUE, width: w }, z: 4 });
        series.push({ ...base, name: metal + " \u2013 Y", data: sl(row.mY), lineStyle: { color: C_MAG, width: w }, z: 5 });
        series.push({ ...base, name: "Si \u2013 Si", data: sl(row.siSi), lineStyle: { color: C_RED, width: w }, z: 6 });
      }

      // panel letter box
      const bx = COL_LEFT[c] + (c === 2 ? 164 : COL_W[c]) - 21;
      graphic.push({ type: "rect", x: bx, y: top, shape: { width: 21, height: 21 }, style: { fill: "#000" }, z: 100 });
      graphic.push({
        type: "text", x: bx + 10.5, y: top + 10, z: 101,
        style: { text: PANEL_LETTERS[r][c], fill: "#fff", font: `bold 22px ${FONT}`, textAlign: "center", textVerticalAlign: "middle" },
      });
    }

    // E_F labels (E with subscript F)
    const efPos = [[231, top + 37], [634, top + 41]];
    for (const [ex, ey] of efPos) {
      graphic.push({
        type: "text", x: ex, y: ey, z: 101,
        style: {
          text: "{e|E}{f|F}", textAlign: "left", textVerticalAlign: "middle",
          rich: {
            e: { fontFamily: FONT, fontSize: 15, fontWeight: "bold", fontStyle: "italic", fill: "#000", color: "#000", verticalAlign: "bottom" },
            f: { fontFamily: FONT, fontSize: 8, fontWeight: "bold", fontStyle: "italic", fill: "#000", color: "#000", verticalAlign: "bottom", padding: [0, 0, 0, 1] },
          },
        },
      });
    }

    // Axis titles
    graphic.push({
      type: "text", x: 22, y: top + ROW_H / 2, rotation: Math.PI / 2, z: 101,
      style: { text: "Energy (eV)", fill: "#000", font: `23px ${FONT}`, textAlign: "center", textVerticalAlign: "middle" },
    });
    const bottom = top + ROW_H;
    graphic.push({ type: "text", x: 165.5, y: bottom + 39, z: 101, style: { text: "DOS", fill: "#000", font: `19px ${FONT}`, textAlign: "center", textVerticalAlign: "middle" } });
    graphic.push({ type: "text", x: 337, y: bottom + 39, z: 101, style: { text: "\u2212pCOHP", fill: "#000", font: `19px ${FONT}`, textAlign: "center", textVerticalAlign: "middle" } });
    graphic.push({ type: "text", x: 569, y: bottom + 39, z: 101, style: { text: "\u2212pCOHP", fill: "#000", font: `19px ${FONT}`, textAlign: "center", textVerticalAlign: "middle" } });

    // DOS legend
    const dosLeg = [["Total", C_TOTAL], [metal, C_M], ["Si", C_SI_LEG], ["Y", C_Y]];
    dosLeg.forEach(([label, color], k) => {
      const cy = top + 254 + k * 17;
      graphic.push({ type: "rect", x: 183, y: cy - 7, shape: { width: 15, height: 14 }, style: { fill: color }, z: 101 });
      graphic.push({ type: "text", x: 204, y: cy, z: 101, style: { text: label, fill: "#000", font: `bold 15px ${FONT}`, textAlign: "left", textVerticalAlign: "middle" } });
    });
    // COHP legend
    const cohpLeg = [["Si \u2013 Si", C_RED], [metal + " \u2013 Si", C_GREEN], [metal + " \u2013 " + metal, C_BLUE], [metal + " \u2013 Y", C_MAG], ["Y \u2013 Si", C_YEL]];
    cohpLeg.forEach(([label, color], k) => {
      const cy = top + 222 + k * 20.8;
      graphic.push({ type: "rect", x: 364, y: cy - 7, shape: { width: 14, height: 14 }, style: { fill: color }, z: 101 });
      graphic.push({ type: "text", x: 380, y: cy, z: 101, style: { text: label, fill: "#000", font: `bold 13px ${FONT}`, textAlign: "left", textVerticalAlign: "middle" } });
    });
  }

  return { animation: false, backgroundColor: "#fff", grid, xAxis, yAxis, series, graphic };
}

export default function App() {
  const ref = useRef<HTMLDivElement>(null);
  useEffect(() => {
    if (!ref.current) return;
    const chart = echarts.init(ref.current, null, { renderer: "svg" });
    chart.setOption(buildOption() as any);
    return () => chart.dispose();
  }, []);
  return <div ref={ref} style={{ position: "absolute", left: 0, top: 0, width: 650, height: 1192, background: "#fff" }} />;
}
